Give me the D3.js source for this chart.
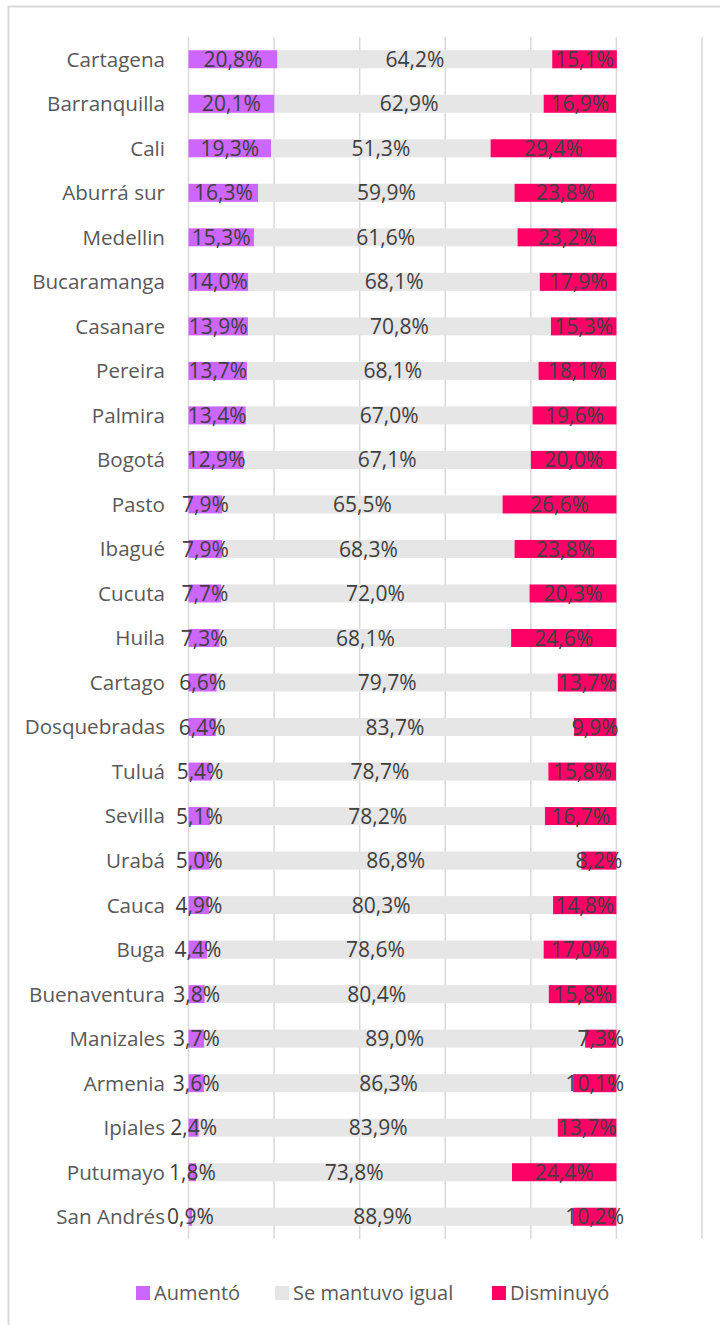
<!DOCTYPE html>
<html>
<head>
<meta charset="utf-8">
<script src="https://cdn.jsdelivr.net/npm/d3@7"></script>
<style>
  html, body { margin: 0; padding: 0; background: #fff; }
  svg { display: block; }
  text { font-family: "Open Sans", "Noto Sans", sans-serif; }
</style>
</head>
<body>
<svg id="chart" width="720" height="1325"></svg>
<script>
const categories = ["Cartagena","Barranquilla","Cali","Aburrá sur","Medellin","Bucaramanga","Casanare","Pereira","Palmira","Bogotá","Pasto","Ibagué","Cucuta","Huila","Cartago","Dosquebradas","Tuluá","Sevilla","Urabá","Cauca","Buga","Buenaventura","Manizales","Armenia","Ipiales","Putumayo","San Andrés"];
const aumento = [20.8,20.1,19.3,16.3,15.3,14.0,13.9,13.7,13.4,12.9,7.9,7.9,7.7,7.3,6.6,6.4,5.4,5.1,5.0,4.9,4.4,3.8,3.7,3.6,2.4,1.8,0.9];
const igual = [64.2,62.9,51.3,59.9,61.6,68.1,70.8,68.1,67.0,67.1,65.5,68.3,72.0,68.1,79.7,83.7,78.7,78.2,86.8,80.3,78.6,80.4,89.0,86.3,83.9,73.8,88.9];
const disminuyo = [15.1,16.9,29.4,23.8,23.2,17.9,15.3,18.1,19.6,20.0,26.6,23.8,20.3,24.6,13.7,9.9,15.8,16.7,8.2,14.8,17.0,15.8,7.3,10.1,13.7,24.4,10.2];
const seriesNames = ["Aumentó","Se mantuvo igual","Disminuyó"];
const seriesColors = ["#CC66FF","#E6E6E6","#FF0066"];
const xTicks = [0,20,40,60,80,100,120];

const svg = d3.select("#chart");

// chart area border
svg.append("rect").attr("x",8.5).attr("y",6.5).attr("width",900).attr("height",1500)
  .attr("fill","#fff").attr("stroke","#D9D9D9").attr("stroke-width",2);

const rows = categories.map((c,i)=>({cat:c, a:aumento[i], b:igual[i], c2:disminuyo[i]}));
const stack = d3.stack().keys(["a","b","c2"]);
const stacked = stack(rows);

const x = d3.scaleLinear().domain([0,120]).range([188.5,702]);
const y = d3.scaleBand().domain(categories).range([37,1239]).paddingInner(0.595).paddingOuter(0.2975);

// gridlines
svg.append("g").selectAll("line").data(xTicks).join("line")
  .attr("x1",d=>x(d)).attr("x2",d=>x(d)).attr("y1",37).attr("y2",1239)
  .attr("stroke","#D9D9D9").attr("stroke-width",1.5);

// bars
const layers = svg.append("g").selectAll("g").data(stacked).join("g")
  .attr("fill",(d,i)=>seriesColors[i]);
layers.selectAll("rect").data(d=>d).join("rect")
  .attr("x",d=>x(d[0])).attr("width",d=>x(d[1])-x(d[0]))
  .attr("y",d=>y(d.data.cat)).attr("height",y.bandwidth());

// labels
const fmt = v => v.toFixed(1).replace(".",",") + "%";
const lab = svg.append("g").attr("font-size",21).attr("fill","#404040").attr("text-anchor","middle");
stacked.forEach(layer=>{
  lab.selectAll(null).data(layer).join("text")
    .attr("x",d=>(x(d[0])+x(d[1]))/2)
    .attr("y",d=>y(d.data.cat)+y.bandwidth()/2)
    .attr("dy","0.36em")
    .text(d=>fmt(d[1]-d[0]));
});

// category axis labels
svg.append("g").attr("font-size",20.6).attr("fill","#595959").attr("text-anchor","end")
  .selectAll("text").data(categories).join("text")
  .attr("x",165).attr("y",d=>y(d)+y.bandwidth()/2).attr("dy","0.36em").text(d=>d);

// legend
const legendX = [136,275,492];
const lg = svg.append("g").selectAll("g").data(seriesNames).join("g")
  .attr("transform",(d,i)=>`translate(${legendX[i]},1293)`);
lg.append("rect").attr("x",0).attr("y",-7).attr("width",14).attr("height",14)
  .attr("fill",(d,i)=>seriesColors[i]);
lg.append("text").attr("x",18).attr("dy","0.36em").attr("font-size",20).attr("fill","#595959").text(d=>d);
</script>
</body>
</html>
